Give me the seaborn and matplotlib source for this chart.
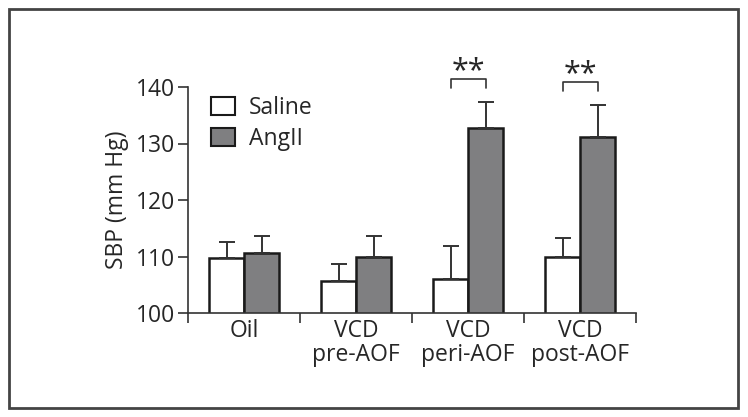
import matplotlib
matplotlib.use("Agg")
import matplotlib.pyplot as plt
import seaborn as sns
import pandas as pd
import numpy as np
from matplotlib.patches import Rectangle, Patch

categories = ["Oil", "VCD\npre-AOF", "VCD\nperi-AOF", "VCD\npost-AOF"]
groups = ["Saline", "AngII"]
saline_means = [109.7, 105.7, 106.1, 110.0]
saline_err = [2.9, 3.0, 5.7, 3.2]
angii_means = [110.6, 110.0, 132.7, 131.1]
angii_err = [3.1, 3.6, 4.6, 5.7]
sig_pairs = [2, 3]
sig_label = "**"

sns.set_style("white")
plt.rcParams['font.family'] = ['Open Sans', 'DejaVu Sans']
FS = 16.5

df = pd.DataFrame({
    "cat": categories * 2,
    "group": [groups[0]] * 4 + [groups[1]] * 4,
    "sbp": saline_means + angii_means,
})

fig = plt.figure(figsize=(7.48, 4.17), dpi=100)
ax = fig.add_axes([188/748, 1-313/417, 448/748, 226/417])

palette = {"Saline": "#ffffff", "AngII": "#7f7f81"}
sns.barplot(data=df, x="cat", y="sbp", hue="group", palette=palette,
            width=0.625, gap=0, errorbar=None, edgecolor="#1a1a1a",
            linewidth=1.8, ax=ax, legend=False, saturation=1)

errs = [saline_err, angii_err]
bar_conts = [c for c in ax.containers]
tops = {}
for ci, cont in enumerate(bar_conts):
    for bi, bar in enumerate(cont.patches):
        xc = bar.get_x() + bar.get_width()/2
        h = bar.get_height()
        ax.errorbar([xc], [h], yerr=[[0], [errs[ci][bi]]], fmt='none',
                    ecolor="#333333", elinewidth=1.4, capsize=5.5,
                    capthick=1.4, zorder=1, clip_on=False)
        tops[(ci, bi)] = xc

ax.set_ylim(100, 140)
ax.set_xlim(-0.5, 3.5)
ax.set_yticks([100, 110, 120, 130, 140])
ax.set_xticks([-0.5, 0.5, 1.5, 2.5, 3.5])
ax.set_xticklabels([])
ax.set_xticks([0, 1, 2, 3], minor=True)
ax.set_xticklabels(categories, minor=True, fontsize=FS, linespacing=1.0)
ax.tick_params(axis='x', which='major', direction='out', length=7, width=1.2,
               color="#333333", bottom=True)
ax.tick_params(axis='x', which='minor', length=0, pad=4, bottom=True)
ax.tick_params(axis='y', direction='out', length=7, width=1.2, color="#333333",
               labelsize=FS, pad=2, left=True)
ax.set_xlabel("")
ax.set_ylabel("SBP (mm Hg)", fontsize=FS, labelpad=5)
for s in ["top", "right"]:
    ax.spines[s].set_visible(False)
for s in ["left", "bottom"]:
    ax.spines[s].set_color("#333333")
    ax.spines[s].set_linewidth(1.2)

# significance brackets
for bi in sig_pairs:
    x1 = tops[(0, bi)]
    x2 = tops[(1, bi)]
    ytop = max(angii_means[bi] + angii_err[bi], saline_means[bi] + saline_err[bi]) + 4.1
    ax.plot([x1, x1, x2, x2], [ytop - 1.6, ytop, ytop, ytop - 1.6],
            color="#333333", lw=1.2, clip_on=False)
    ax.text((x1 + x2)/2, ytop - 1.3, sig_label, ha='center', va='bottom',
            fontsize=22, clip_on=False)

handles = [Patch(facecolor=palette[g], edgecolor="#1a1a1a", linewidth=1.5) for g in groups]
ax.legend(handles, groups, loc='upper left', bbox_to_anchor=(0.005, 1.05),
          frameon=False, fontsize=FS, handlelength=1.05, handleheight=0.82,
          handletextpad=0.6, labelspacing=0.3)

fig.patches.append(Rectangle((8.5/748, 1-408/417), 729/748, 399/417,
                             transform=fig.transFigure, fill=False,
                             edgecolor="#444444", linewidth=2))

fig.savefig("out.png", dpi=100)
